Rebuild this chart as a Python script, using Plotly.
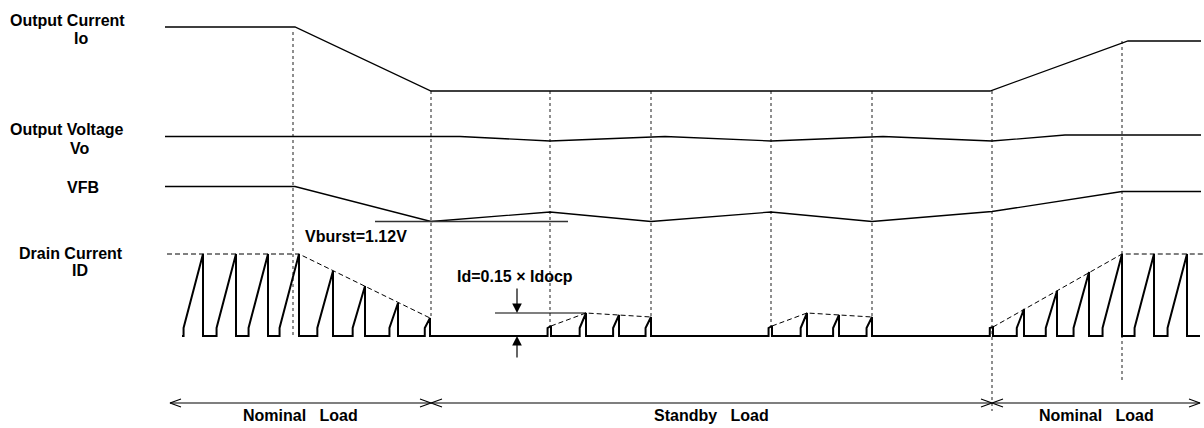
import plotly.graph_objects as go

# ---- signal traces (time axis left->right, level axis drawn top->bottom) ----
io_t = [165, 295, 431, 990, 1128, 1201]
io_v = [27, 27, 91, 91, 41, 41]

vo_t = [165, 460, 550, 665, 771, 883, 992, 1065, 1201]
vo_v = [136.5, 136.5, 141, 136.5, 141, 136.5, 141, 135, 135]

vfb_t = [165, 295, 431, 550, 651, 771, 872, 992, 1122, 1201]
vfb_v = [186.5, 186.5, 221.5, 212, 221.5, 212, 221.5, 211.5, 191.5, 191.5]

# drain current pulses: peak instants and peak levels
id_base = 336
id_peak_t = [203, 236, 268, 299, 333, 365, 398, 430,
             551, 586, 619, 651,
             772, 807, 839, 872,
             993, 1024, 1057, 1089, 1122, 1154, 1187]
id_peak_v = [254, 254, 254, 254, 271, 286, 303, 318,
             326, 313, 315, 317,
             326, 313, 315, 317,
             327, 309, 291, 272, 254, 254, 254]
id_start, id_end = 182, 1200

# peak envelopes (dashed)
env_segments = [
    ([167, 299, 430], [254, 254, 318]),
    ([551, 586, 651], [326, 313, 317]),
    ([772, 807, 872], [326, 313, 317]),
    ([993, 1122, 1204], [327, 254, 254]),
]

# vertical timing markers: time, top, bottom
mark_t = [293, 431, 550, 651, 771, 872, 992, 1122]
mark_top = [32, 91, 91, 91, 91, 91, 91, 41]
mark_bot = [336, 318, 326, 317, 326, 317, 411, 382]

# burst threshold and standby current reference
vburst_t = [375, 568]
vburst_v = [221.5, 221.5]
idref_t = [495, 586]
idref_v = [313, 313]

# load regions along the bottom
load_bounds = [170, 431, 992, 1200]
load_labels = ["Nominal\u00a0\u00a0\u00a0Load", "Standby\u00a0\u00a0\u00a0Load", "Nominal\u00a0\u00a0\u00a0Load"]
load_y = 403

signal_labels = [
    ("Output Current", 8, 20, "left"),
    ("Io", 81, 38, "center"),
    ("Output Voltage", 8, 129, "left"),
    ("Vo", 79, 148, "center"),
    ("VFB", 83, 187, "center"),
    ("Drain Current", 17, 253, "left"),
    ("ID", 80, 270, "center"),
    ("Vburst=1.12V", 303, 236, "left"),
    ("Id=0.15 \u00d7 Idocp", 455, 276, "left"),
]

FONT = dict(family="Liberation Sans, Arial, sans-serif", size=16, color="black",
            weight="bold")

fig = go.Figure()


def line(x, y, width=1.3, color="black", dash="solid"):
    fig.add_trace(go.Scatter(x=x, y=y, mode="lines", hoverinfo="skip",
                             line=dict(color=color, width=width, dash=dash)))


# timing markers
mx, my = [], []
for t, a, b in zip(mark_t, mark_top, mark_bot):
    mx += [t, t, None]
    my += [a, b, None]
line(mx, my, width=1.2, color="#444", dash="3px,3px")

# analog signals
line(io_t, io_v)
line(vo_t, vo_v)
line(vfb_t, vfb_v)
line(vburst_t, vburst_v, width=1.6, color="#333")
line(idref_t, idref_v, width=1.2)

# drain current sawtooth
step = 8
dx, dy = [id_start], [id_base]
for tp, vp in zip(id_peak_t, id_peak_v):
    h = (id_base - step) - vp
    w = 3 + max(h, 0) / 4.5
    ts = tp - w
    dx += [ts, ts, tp, tp]
    dy += [id_base, id_base - step if vp < id_base - step else vp, vp, id_base]
dx.append(id_end)
dy.append(id_base)
line(dx, dy, width=2)

# envelopes
for ex, ey in env_segments:
    line(ex, ey, width=1, dash="5px,3px")

# load region dimension line with open chevrons
line([load_bounds[0], load_bounds[-1]], [load_y, load_y], width=1.2)
cx, cy = [], []
hw, hh = 11, 4
for i, b in enumerate(load_bounds):
    if i > 0:  # head pointing right
        cx += [b - hw, b, b - hw, None]
        cy += [load_y - hh, load_y, load_y + hh, None]
    if i < len(load_bounds) - 1:  # head pointing left
        cx += [b + hw, b, b + hw, None]
        cy += [load_y - hh, load_y, load_y + hh, None]
line(cx, cy, width=1.2)

for i, lab in enumerate(load_labels):
    fig.add_annotation(x=(load_bounds[i] + load_bounds[i + 1]) / 2, y=415, text=lab,
                       showarrow=False, xanchor="center", yanchor="middle", font=FONT)

for text, x, y, anc in signal_labels:
    fig.add_annotation(x=x, y=y, text=text, showarrow=False, xanchor=anc,
                       yanchor="middle", font=FONT)

# current amplitude arrows
fig.add_annotation(x=517, y=313, ax=517, ay=287, axref="x", ayref="y", xref="x", yref="y",
                   text="", showarrow=True, arrowhead=2, arrowsize=1.6, arrowwidth=1.2,
                   arrowcolor="black")
fig.add_annotation(x=517, y=336, ax=517, ay=359, axref="x", ayref="y", xref="x", yref="y",
                   text="", showarrow=True, arrowhead=2, arrowsize=1.6, arrowwidth=1.2,
                   arrowcolor="black")

fig.update_layout(
    width=1204, height=428, margin=dict(l=0, r=0, t=0, b=0),
    paper_bgcolor="white", plot_bgcolor="white", showlegend=False,
    xaxis=dict(range=[0, 1204], visible=False, fixedrange=True),
    yaxis=dict(range=[428, 0], visible=False, fixedrange=True),
)

fig.write_html("out.html")
